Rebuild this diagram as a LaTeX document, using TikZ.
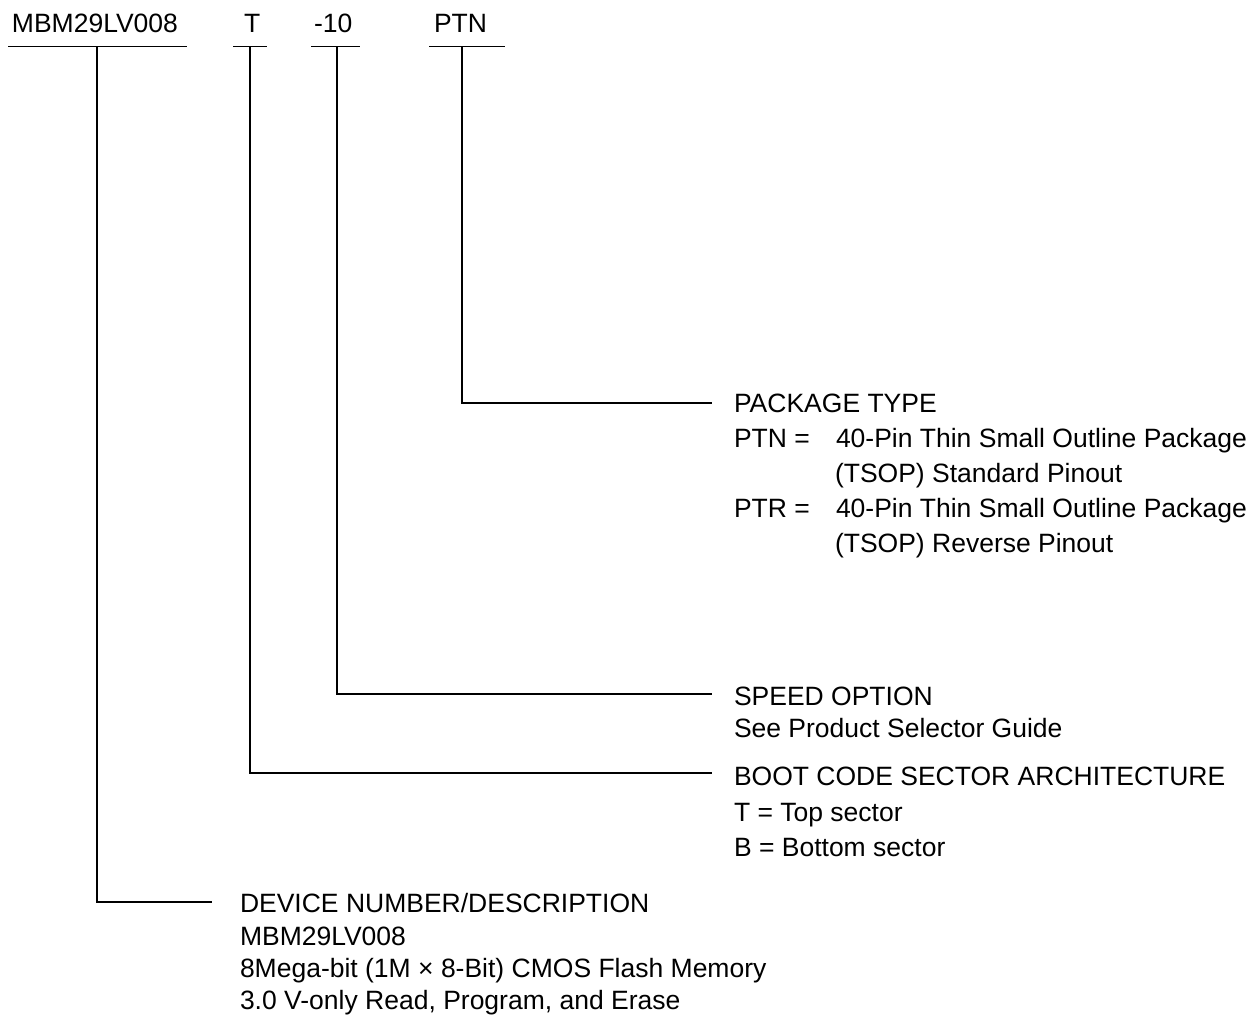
\documentclass[tikz,border=0pt]{standalone}
\usepackage{fontspec}
\setmainfont{Liberation Sans}
\begin{document}
\begin{tikzpicture}[x=1pt,y=-1pt,
  lbl/.style={anchor=base west,inner sep=0pt,outer sep=0pt,font=\fontsize{26.5}{32}\selectfont},
  conn/.style={line width=1.2pt,line cap=butt},
  uline/.style={line width=1.2pt}]
\useasboundingbox (0,0) rectangle (1250,1015);
% top part-number fields
\node[lbl] (dev) at (12,32) {MBM29LV008};
\node[lbl] (boot) at (244,32) {T};
\node[lbl] (spd) at (314,32) {-10};
\node[lbl] (pkg) at (434,32) {PTN};
% underlines
\coordinate (devL) at (8,46.5);   \coordinate (devR) at (187,46.5);
\coordinate (bootL) at (233,46.5); \coordinate (bootR) at (267,46.5);
\coordinate (spdL) at (311,46.5); \coordinate (spdR) at (360,46.5);
\coordinate (pkgL) at (429,46.5); \coordinate (pkgR) at (505,46.5);
\draw[uline] (devL) -- (devR);
\draw[uline] (bootL) -- (bootR);
\draw[uline] (spdL) -- (spdR);
\draw[uline] (pkgL) -- (pkgR);
% drop points
\coordinate (devD) at (97,46.5);
\coordinate (bootD) at (250,46.5);
\coordinate (spdD) at (337,46.5);
\coordinate (pkgD) at (462,46.5);
% connector ends
\coordinate (devE) at (212,902);
\coordinate (bootE) at (712,773);
\coordinate (spdE) at (712,694);
\coordinate (pkgE) at (712,403);
\draw[conn] (devD) |- (devE);
\draw[conn] (bootD) |- (bootE);
\draw[conn] (spdD) |- (spdE);
\draw[conn] (pkgD) |- (pkgE);
% package type
\node[lbl] (p1) at (734,412) {PACKAGE TYPE};
\node[lbl] (p2) at (734,447) {PTN =};
\node[lbl] (p2b) at (836,447) {40-Pin Thin Small Outline Package};
\node[lbl] (p3) at (835,482) {(TSOP) Standard Pinout};
\node[lbl] (p4) at (734,517) {PTR =};
\node[lbl] (p4b) at (836,517) {40-Pin Thin Small Outline Package};
\node[lbl] (p5) at (835,552) {(TSOP) Reverse Pinout};
% speed option
\node[lbl] (s1) at (734,705) {SPEED OPTION};
\node[lbl] (s2) at (734,737) {See Product Selector Guide};
% boot code
\node[lbl] (b1) at (734,785) {BOOT CODE SECTOR ARCHITECTURE};
\node[lbl] (b2) at (734,821) {T = Top sector};
\node[lbl] (b3) at (734,856) {B = Bottom sector};
% device
\node[lbl] (d1) at (240,912) {DEVICE NUMBER/DESCRIPTION};
\node[lbl] (d2) at (240,945) {MBM29LV008};
\node[lbl] (d3) at (240,977) {8Mega-bit (1M × 8-Bit) CMOS Flash Memory};
\node[lbl] (d4) at (240,1009) {3.0 V-only Read, Program, and Erase};
\end{tikzpicture}
\end{document}
